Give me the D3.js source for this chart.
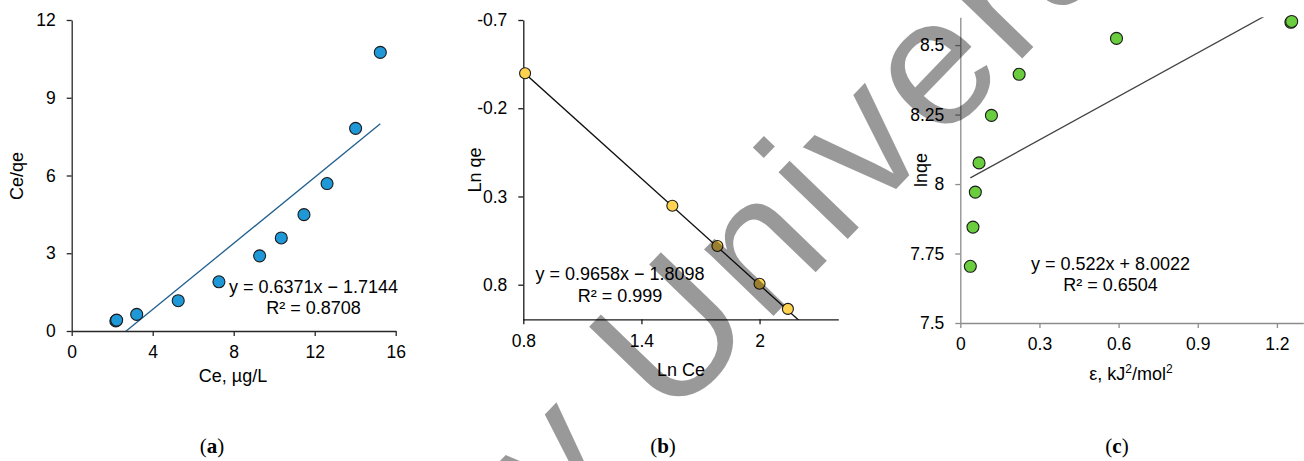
<!DOCTYPE html>
<html>
<head>
<meta charset="utf-8">
<script src="https://cdn.jsdelivr.net/npm/d3@7/dist/d3.min.js"></script>
<style>
  body { margin: 0; background: #fff; }
  text { font-family: "Liberation Sans", Arial, sans-serif; }
</style>
</head>
<body>
<script>
// (a) Ce/qe vs Ce
var ceA = [2.18, 2.22, 3.21, 5.26, 7.27, 9.28, 10.35, 11.47, 12.61, 14.02, 15.24];
var ratioA = [0.39, 0.42, 0.64, 1.17, 1.90, 2.90, 3.59, 4.49, 5.69, 7.82, 10.75];
var xTicksA = [0, 4, 8, 12, 16];
var yTicksA = [0, 3, 6, 9, 12];
var fitA = { slope: 0.6371, intercept: -1.7144 };
var eqA = ["y = 0.6371x \u2212 1.7144", "R\u00b2 = 0.8708"];

// (b) Ln qe vs Ln Ce (value axis drawn in reverse order)
var lnCeB = [0.809, 1.557, 1.786, 2.0, 2.144];
var lnQeB = [-0.398, 0.353, 0.581, 0.795, 0.937];
var xTicksB = [0.8, 1.4, 2];
var yTicksB = [-0.7, -0.2, 0.3, 0.8];
var fitB = { slope: 1.005, intercept: -1.209 };
var eqB = ["y = 0.9658x \u2212 1.8098", "R\u00b2 = 0.999"];

// (c) lnqe vs epsilon
var epsC = [0.038, 0.048, 0.057, 0.071, 0.118, 0.223, 0.592, 1.253, 1.256];
var lnQeC = [7.704, 7.845, 7.971, 8.076, 8.247, 8.395, 8.524, 8.582, 8.585];
var xTicksC = [0, 0.3, 0.6, 0.9, 1.2];
var yTicksC = [7.5, 7.75, 8, 8.25, 8.5];
var fitC = { slope: 0.522, intercept: 8.0022 };
var eqC = ["y = 0.522x + 8.0022", "R\u00b2 = 0.6504"];

var w = 1304, h = 461;

var svg = d3.select("body").append("svg")
    .attr("width", w)
    .attr("height", h)
    .style("display", "block")
    .style("background", "#fff");

function drawPanel(p) {
    var g = svg.append("g");
    var x = p.x, y = p.y;
    var x0 = x.range()[0], x1 = x.range()[1];
    var yTop = d3.min(y.range()), yBot = d3.max(y.range());

    // clip for the trend line
    svg.append("clipPath").attr("id", p.id + "clip")
        .append("rect")
        .attr("x", x0).attr("y", yTop)
        .attr("width", x1 - x0).attr("height", yBot - yTop);

    var xAxis = g.append("g")
        .attr("transform", "translate(0," + p.xAxisAt + ")")
        .call(d3.axisBottom(x).tickValues(p.xTicks).tickFormat(function(d) { return String(d); })
            .tickSize(5).tickSizeOuter(0).tickPadding(10));
    var yAxis = g.append("g")
        .attr("transform", "translate(" + x0 + ",0)")
        .call(d3.axisLeft(y).tickValues(p.yTicks).tickFormat(function(d) { return String(d); })
            .tickSize(5).tickSizeOuter(0).tickPadding(11));

    [xAxis, yAxis].forEach(function(a) {
        a.select(".domain").attr("stroke", p.axisColor).attr("stroke-width", 1.3);
        a.selectAll(".tick line").attr("stroke", p.axisColor).attr("stroke-width", 1.3);
        a.selectAll(".tick text").attr("fill", "#000").style("font-size", "17.5px")
            .style("font-family", "'Liberation Sans', Arial, sans-serif");
    });

    // trend line
    var fx0 = p.fitFrom, fx1 = p.fitTo;
    g.append("line")
        .attr("clip-path", "url(#" + p.id + "clip)")
        .attr("x1", x(fx0)).attr("y1", y(p.fit.slope * fx0 + p.fit.intercept))
        .attr("x2", x(fx1)).attr("y2", y(p.fit.slope * fx1 + p.fit.intercept))
        .attr("stroke", p.lineColor)
        .attr("stroke-width", 1.3);

    // points
    g.selectAll(".pt")
        .data(p.xs)
        .enter()
        .append("circle")
        .attr("class", "pt")
        .attr("cx", function(d) { return x(d); })
        .attr("cy", function(d, i) { return y(p.ys[i]); })
        .attr("r", p.r)
        .attr("fill", p.fill)
        .attr("stroke", "#1a1a1a")
        .attr("stroke-width", 1.1);

    // equation
    g.selectAll(".eq")
        .data(p.eq)
        .enter()
        .append("text")
        .attr("x", p.eqX)
        .attr("y", function(d, i) { return p.eqY + i * 21.5; })
        .attr("text-anchor", "middle")
        .style("font-size", "18px")
        .text(function(d) { return d; });

    // axis titles
    var xt = g.append("text")
        .attr("x", p.xTitle[0]).attr("y", p.xTitle[1])
        .attr("text-anchor", "middle")
        .style("font-size", "18px");
    if (p.xTitleParts) {
        p.xTitleParts.forEach(function(part) {
            var t = xt.append("tspan").text(part[0]);
            if (part[1]) t.style("font-size", "12px").attr("baseline-shift", "55%");
        });
    } else {
        xt.text(p.xLabel);
    }
    g.append("text")
        .attr("transform", "translate(" + p.yTitle[0] + "," + p.yTitle[1] + ") rotate(-90)")
        .attr("text-anchor", "middle")
        .style("font-size", "18px")
        .text(p.yLabel);

    // panel caption
    var cap = g.append("text")
        .attr("x", p.capX).attr("y", 453)
        .attr("text-anchor", "middle")
        .style("font-family", "'Liberation Serif', 'Times New Roman', serif")
        .style("font-size", "21px");
    cap.append("tspan").text("(");
    cap.append("tspan").style("font-weight", "bold").text(p.cap);
    cap.append("tspan").text(")");
}

drawPanel({
    id: "a",
    x: d3.scaleLinear().domain([0, 16]).range([71.7, 395.7]),
    y: d3.scaleLinear().domain([0, 12]).range([331, 20]),
    xAxisAt: 331,
    xTicks: xTicksA, yTicks: yTicksA,
    xs: ceA, ys: ratioA,
    fit: fitA, fitFrom: d3.min(ceA), fitTo: d3.max(ceA),
    fill: "#1e98d7", r: 6,
    axisColor: "#262626", lineColor: "#1f5f8f",
    eq: eqA, eqX: 313.5, eqY: 292.5,
    xLabel: "Ce, \u00b5g/L", xTitle: [233, 382],
    yLabel: "Ce/qe", yTitle: [23, 176],
    cap: "a", capX: 212
});

drawPanel({
    id: "b",
    x: d3.scaleLinear().domain([0.8, 2.4]).range([523.3, 838.3]),
    y: d3.scaleLinear().domain([-0.7, 1.0]).range([20, 320]),
    xAxisAt: 319.3,
    xTicks: xTicksB, yTicks: yTicksB,
    xs: lnCeB, ys: lnQeB,
    fit: fitB, fitFrom: 0.8, fitTo: 2.4,
    fill: "#ffd24f", r: 5.5,
    axisColor: "#1a1a1a", lineColor: "#111",
    eq: eqB, eqX: 620, eqY: 280,
    xLabel: "Ln Ce", xTitle: [681, 376],
    yLabel: "Ln qe", yTitle: [481, 170],
    cap: "b", capX: 663
});

drawPanel({
    id: "c",
    x: d3.scaleLinear().domain([0, 1.3]).range([960.3, 1303.3]),
    y: d3.scaleLinear().domain([7.5, 8.6]).range([323, 17.3]),
    xAxisAt: 323,
    xTicks: xTicksC, yTicks: yTicksC,
    xs: epsC, ys: lnQeC,
    fit: fitC, fitFrom: d3.min(epsC), fitTo: 1.3,
    fill: "#6acd3e", r: 6,
    axisColor: "#8c8c8c", lineColor: "#444",
    eq: eqC, eqX: 1110.5, eqY: 269.5,
    xTitleParts: [["\u03b5, kJ"], ["2", true], ["/mol"], ["2", true]], xTitle: [1131, 380],
    yLabel: "lnqe", yTitle: [927, 170],
    cap: "c", capX: 1117
});

// watermark laid over the figure
svg.append("text")
    .attr("transform", "translate(562.7,534.3) rotate(-46)")
    .style("font-size", "182px")
    .style("letter-spacing", "6px")
    .attr("fill", "#000")
    .attr("fill-opacity", 0.4)
    .text("y University");
</script>
</body>
</html>
